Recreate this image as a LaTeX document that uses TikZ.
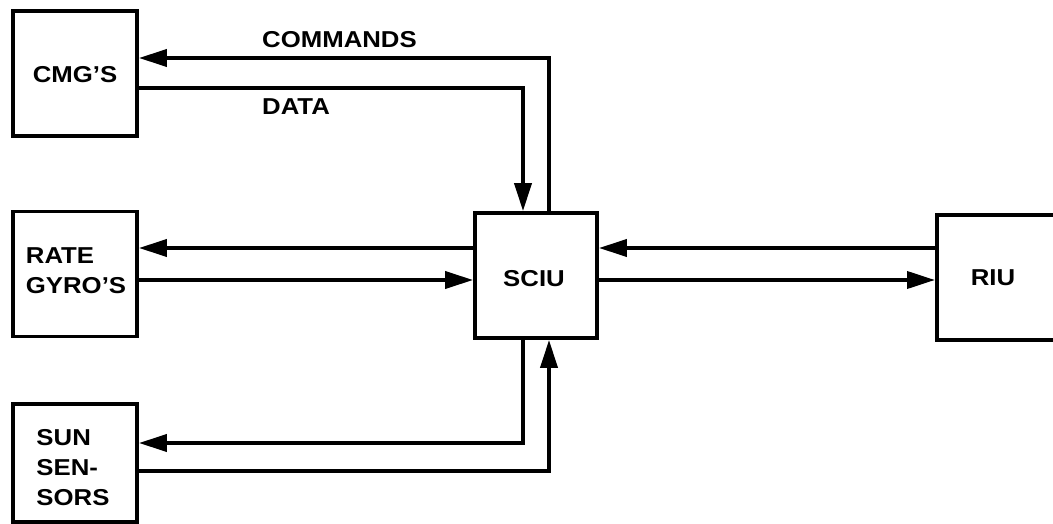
\documentclass[tikz,border=0pt]{standalone}
\usepackage{fontspec}
\setmainfont{Liberation Sans}[FakeStretch=1.12]
\usetikzlibrary{arrows.meta}
\begin{document}
\begin{tikzpicture}[x=1pt,y=-1pt,
  unitbox/.style={draw,line width=3.8pt,minimum width=124pt,minimum height=125pt,inner sep=0pt},
  boxtext/.style={inner sep=0pt,align=left,font=\bfseries\fontsize{23}{30}\selectfont},
  flow/.style={line width=3.8pt,-{Triangle[length=28pt,width=17pt]}}]
\useasboundingbox (0,0) rectangle (1053,524);
\clip (0,0) rectangle (1053,524);

% units
\node[unitbox] (cmg)  at (75,73.5) {};
\node[unitbox] (gyro) at (75,274) {};
\node[unitbox,minimum height=118pt] (sun) at (75,463) {};
\node[unitbox,minimum width=122pt] (sciu) at (536,275.5) {};
\node[unitbox,minimum width=220pt,anchor=west] (riu) at (935,277.5) {};

% unit names
\node[boxtext] (cmgname)  at (75,75) {CMG'S};
\node[boxtext] (gyroname) at (76,271) {RATE\\GYRO'S};
\node[boxtext] (sunname)  at (73,467.5) {SUN\\SEN-\\SORS};
\node[boxtext] (sciuname) at (534,279) {SCIU};
\node[boxtext] (riuname)  at (993,278) {RIU};

% link labels
\node[boxtext,anchor=west] (cmdlabel)  at (262,40) {COMMANDS};
\node[boxtext,anchor=west] (datalabel) at (262,107) {DATA};

% CMG links
\draw[flow] (sciu.north -| 549,0) |- (cmg.east |- 0,58);
\draw[flow] (cmg.east |- 0,88) -| (sciu.north -| 523,0);

% rate gyro links
\draw[flow] (sciu.west |- 0,248) -- (gyro.east |- 0,248);
\draw[flow] (gyro.east |- 0,280) -- (sciu.west |- 0,280);

% RIU links
\draw[flow] (riu.west |- 0,248) -- (sciu.east |- 0,248);
\draw[flow] (sciu.east |- 0,280) -- (riu.west |- 0,280);

% sun sensor links
\draw[flow] (sciu.south -| 523,0) |- (sun.east |- 0,443);
\draw[flow] (sun.east |- 0,471) -| (sciu.south -| 549,0);
\end{tikzpicture}
\end{document}
